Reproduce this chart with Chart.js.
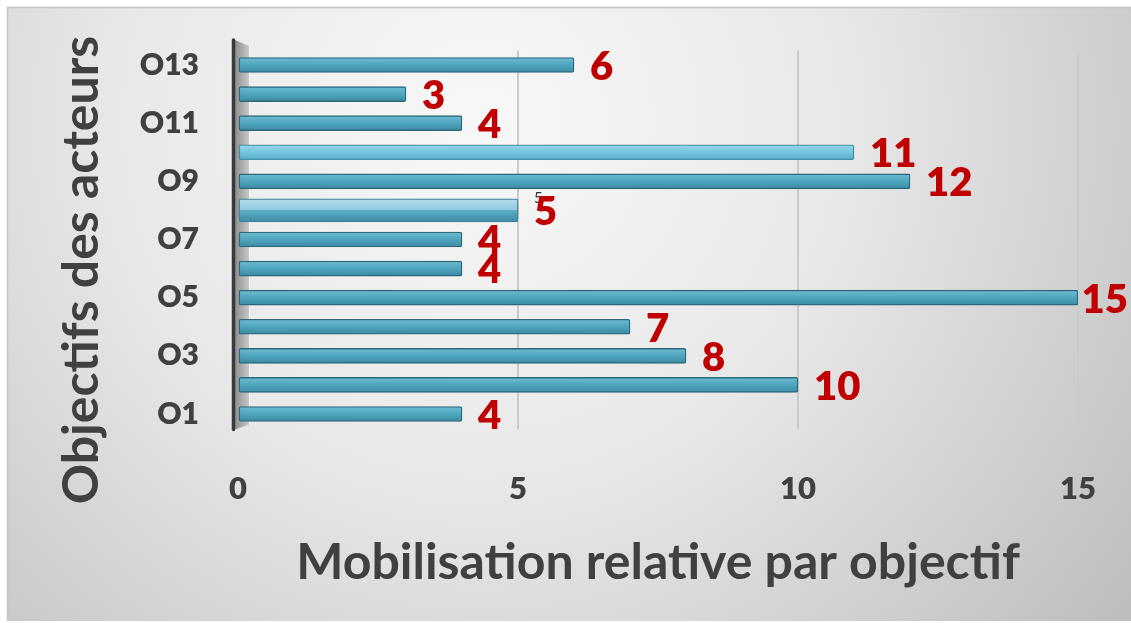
<!DOCTYPE html>
<html><head><meta charset="utf-8">
<script src="https://cdn.jsdelivr.net/npm/chart.js@4"></script>
<style>html,body{margin:0;padding:0;background:#fff;}#wrap{width:1131px;height:623px;position:relative}</style>
</head><body><div id="wrap"><canvas id="c" width="1131" height="623"></canvas></div>
<script>
const categories = ['O1','O2','O3','O4','O5','O6','O7','O8','O9','O10','O11','O12','O13'];
const values = [4, 10, 8, 7, 15, 4, 4, 5, 12, 11, 4, 3, 6];
const overlayValues = [null, null, null, null, null, null, null, 5, null, null, null, null, null];
const xTickValues = [0, 5, 10, 15];
const xTitle = 'Mobilisation relative par objectif';
const yTitle = 'Objectifs des acteurs';

const FONT = 'Lato';
const TEXT = '#404040';
const RED = '#C00000';

function barGradient(ctx, half, stops) {
  const chart = ctx.chart;
  if (!chart.chartArea) return stops[1][1];
  const y = chart.scales.y.getPixelForValue(ctx.dataIndex);
  const g = chart.ctx.createLinearGradient(0, y - half, 0, y + half);
  stops.forEach(s => g.addColorStop(s[0], s[1]));
  return g;
}

const bgPlugin = {
  id: 'bg',
  beforeDraw(chart) {
    const c = chart.ctx;
    c.save();
    c.fillStyle = '#ffffff';
    c.fillRect(0, 0, chart.width, chart.height);
    const g = c.createRadialGradient(480, 120, 0, 480, 120, 820);
    g.addColorStop(0, '#f8f8f8');
    g.addColorStop(0.45, '#e8e8e8');
    g.addColorStop(1, '#bdbdbd');
    c.fillStyle = g;
    c.fillRect(7, 7, chart.width - 7, 614);
    c.strokeStyle = '#c4c4c4';
    c.lineWidth = 1.5;
    c.beginPath();
    c.moveTo(7.5, 621); c.lineTo(7.5, 7.5); c.lineTo(chart.width, 7.5);
    c.stroke();
    c.restore();
  },
  beforeDatasetsDraw(chart) {
    const c = chart.ctx, a = chart.chartArea;
    c.save();
    const g = c.createLinearGradient(235, 0, 249, 0);
    g.addColorStop(0, '#8f8f8f');
    g.addColorStop(1, '#c8c8c8');
    c.fillStyle = g;
    c.beginPath();
    c.moveTo(235, 40); c.lineTo(249, 46); c.lineTo(249, a.bottom - 4); c.lineTo(235, a.bottom + 1);
    c.closePath(); c.fill();
    c.strokeStyle = '#f4f4f4'; c.lineWidth = 1;
    c.beginPath(); c.moveTo(249.5, 46); c.lineTo(249.5, a.bottom - 4); c.stroke();
    c.strokeStyle = '#3a3a3a'; c.lineWidth = 3.5; c.lineCap = 'round';
    c.beginPath(); c.moveTo(233.5, 40); c.lineTo(233.5, a.bottom + 1); c.stroke();
    c.restore();
  },
  afterDatasetsDraw(chart) {
    const c = chart.ctx;
    c.save();
    const meta2 = chart.getDatasetMeta(1);
    c.font = '15px ' + FONT;
    c.fillStyle = '#303030';
    c.textAlign = 'left';
    c.textBaseline = 'middle';
    meta2.data.forEach((el, i) => {
      if (overlayValues[i] == null) return;
      c.fillText(String(overlayValues[i]), el.x + 16, el.y - 12);
    });
    const meta = chart.getDatasetMeta(0);
    c.font = '800 40px ' + FONT;
    c.fillStyle = RED;
    meta.data.forEach((el, i) => {
      const txt = String(values[i]);
      const w = c.measureText(txt).width;
      let x = el.x + 16;
      if (x + w > chart.width - 3) x = chart.width - 3 - w;
      c.fillText(txt, x, el.y + 2);
    });
    c.fillStyle = TEXT;
    c.font = 'bold 50px ' + FONT;
    c.textAlign = 'center';
    c.textBaseline = 'alphabetic';
    const a = chart.chartArea;
    c.fillText(xTitle, (a.left + a.right) / 2, 579);
    c.translate(98, 270);
    c.rotate(-Math.PI / 2);
    c.fillText(yTitle, 0, 0);
    c.restore();
  }
};

new Chart(document.getElementById('c'), {
  type: 'bar',
  data: {
    labels: categories,
    datasets: [
      {
        data: values,
        order: 1,
        barThickness: 15,
        borderRadius: 2,
        borderSkipped: false,
        borderWidth: 1.4,
        borderColor: (ctx) => ctx.dataIndex === 9 ? '#3f8fa8' : '#2c6a7b',
        backgroundColor: (ctx) => ctx.dataIndex === 9
          ? barGradient(ctx, 7.5, [[0, '#9ad6ea'], [0.5, '#74c4de'], [1, '#5aaec8']])
          : barGradient(ctx, 7.5, [[0, '#6fbcd3'], [0.5, '#4ea5be'], [1, '#3b8aa1']])
      },
      {
        data: overlayValues,
        order: 0,
        grouped: false,
        barThickness: 23,
        borderRadius: 2,
        borderSkipped: false,
        borderWidth: 1.2,
        borderColor: '#3f8299',
        backgroundColor: (ctx) => barGradient(ctx, 11.5, [[0, '#b2dcec'], [0.46, '#92cbe0'], [0.5, '#5aabc3'], [1, '#3d8da4']])
      }
    ]
  },
  options: {
    indexAxis: 'y',
    responsive: false,
    animation: false,
    layout: { padding: { top: 50.5, right: 53, bottom: 0, left: 0 } },
    plugins: { legend: { display: false }, tooltip: { enabled: false } },
    scales: {
      x: {
        min: 0, max: 15,
        afterFit(scale) { scale.height = 194.5; scale.paddingLeft = 0; scale.paddingRight = 0; },
        afterBuildTicks(scale) { scale.ticks = xTickValues.map(v => ({ value: v })); },
        grid: {
          drawTicks: false,
          lineWidth: 2,
          color: (ctx) => ctx.tick && ctx.tick.value === 0 ? 'rgba(0,0,0,0)' : '#cacaca'
        },
        border: { display: false },
        ticks: {
          padding: 42,
          color: TEXT,
          font: { family: FONT, size: 31, weight: 800 }
        }
      },
      y: {
        reverse: true,
        afterFit(scale) { scale.width = 238; scale.paddingTop = 0; scale.paddingBottom = 0; },
        grid: { display: false, drawTicks: false },
        border: { display: false },
        ticks: {
          autoSkip: false,
          padding: 39,
          color: TEXT,
          font: { family: FONT, size: 30, weight: 800 },
          callback(v, i) { return i % 2 === 0 ? categories[i] : ''; }
        }
      }
    }
  },
  plugins: [bgPlugin]
});
</script>
</body></html>
